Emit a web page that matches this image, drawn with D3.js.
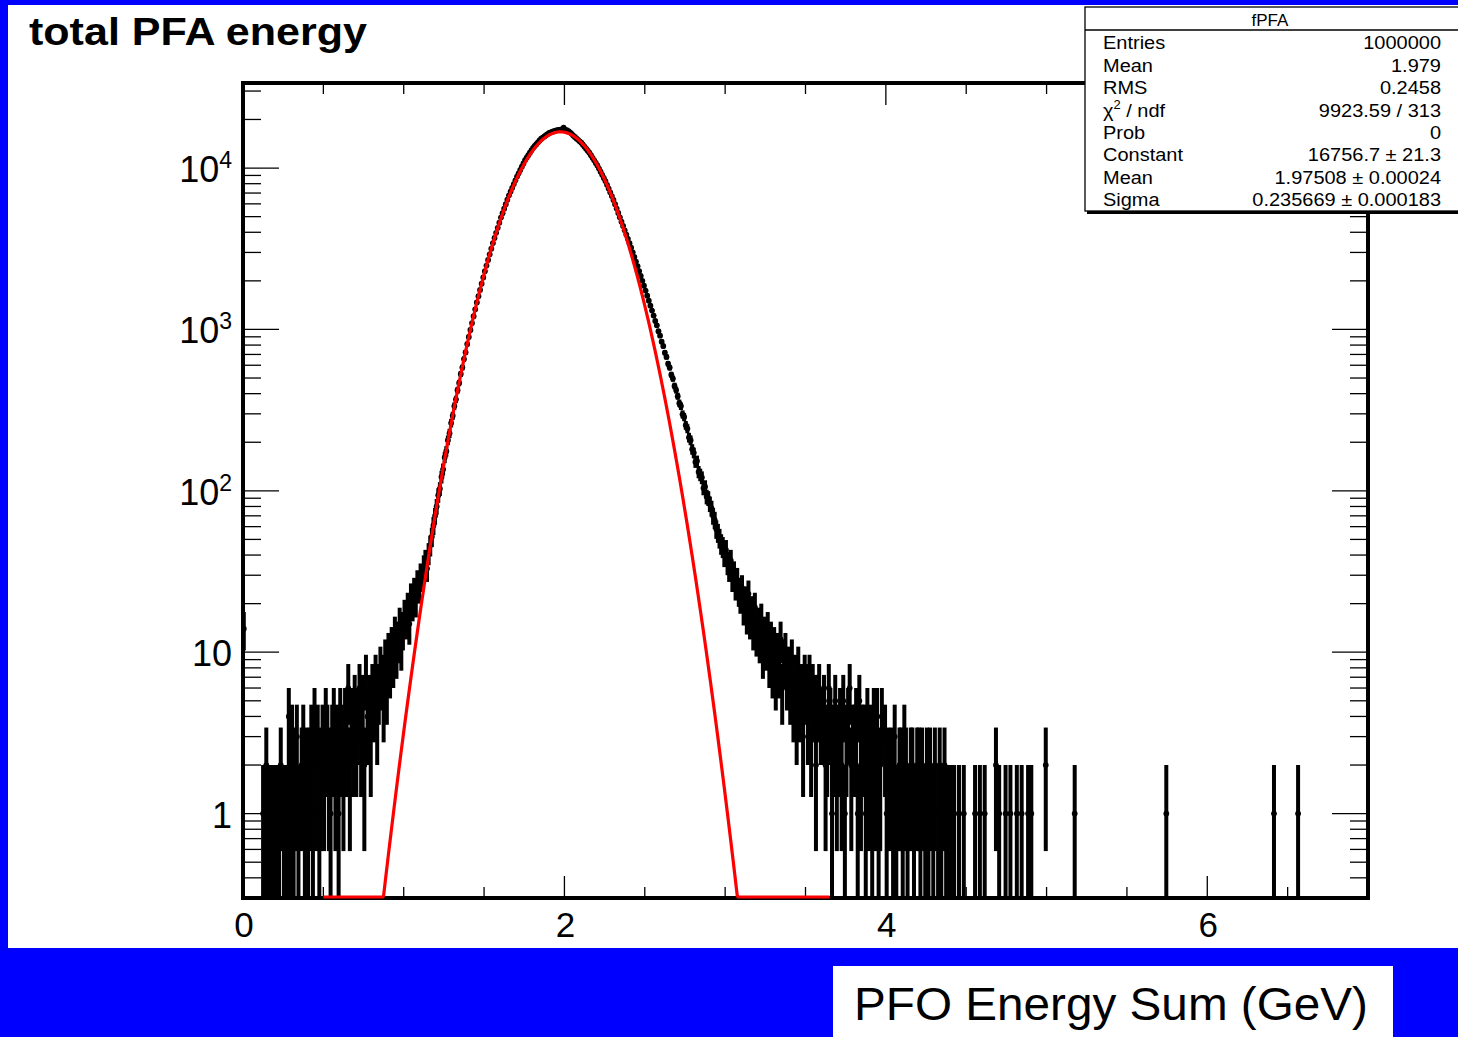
<!DOCTYPE html>
<html>
<head>
<meta charset="utf-8">
<script src="https://cdn.jsdelivr.net/npm/d3@7"></script>
<style>
body { margin: 0; background: #0000ff; }
text { font-family: "Liberation Sans", Arial, sans-serif; fill: #000; }
</style>
</head>
<body>
<svg id="chart" width="1458" height="1037"></svg>
<script>
'use strict';

// histogram fPFA, 0.01 GeV bins starting at 0
var binWidth = 0.01;

// bins 0..119 (0.00 - 1.20 GeV)
var leftTailCounts = [
	14, 0, 0, 0, 0, 0, 0, 0, 0, 0, 0, 0,
	1, 1, 2, 1, 1, 0, 1, 1, 1,
	1, 1, 2, 0, 1, 1, 1, 4, 1, 3,
	1, 2, 3, 1, 0, 2, 3, 1, 2, 1,
	2, 3, 1, 4, 2, 3, 1, 2, 3, 2,
	4, 3, 2, 1, 3, 4, 2, 3, 1, 4,
	3, 2, 4, 3, 6, 2, 4, 3, 5, 3,
	4, 6, 3, 5, 2, 7, 4, 5, 3, 6,
	5, 7, 4, 6, 8, 7, 5, 9, 6, 10,
	8, 11, 9, 13, 10, 12, 15, 11, 14, 17,
	16, 19, 15, 22, 20, 24, 21, 27, 25, 30,
	29, 34, 37, 33, 41, 46, 52, 61, 70
];

// bins 120..289 (1.20 - 2.90 GeV)
var coreCounts = [
	80, 94, 103, 122, 136, 161, 176, 206, 227, 263,
	292, 335, 369, 420, 466, 530, 581, 655, 721, 811,
	899, 992, 1095, 1208, 1333, 1470, 1607, 1757, 1921, 2100,
	2295, 2487, 2695, 2921, 3165, 3430, 3688, 3966, 4264, 4585,
	4930, 5254, 5600, 5969, 6362, 6780, 7151, 7542, 7955, 8390,
	8850, 9277, 9724, 10193, 10684, 11200, 11600, 12014, 12443, 12888,
	13350, 13701, 14062, 14432, 14811, 15200, 15452, 15709, 15969, 16234,
	16500, 16640, 16780, 16920, 17060, 17200, 17260, 17300, 17350, 17800,
	17250, 17150, 16950, 16650, 16300, 15900, 15577, 15261, 14952, 14648,
	14350, 13948, 13558, 13178, 12809, 12450, 12006, 11577, 11163, 10765,
	10380, 9925, 9491, 9075, 8678, 8300, 7868, 7458, 7070, 6701,
	6350, 5966, 5606, 5267, 4949, 4650, 4374, 4115, 3871, 3641,
	3425, 3207, 3003, 2812, 2633, 2465, 2299, 2144, 2000, 1865,
	1740, 1620, 1508, 1404, 1308, 1218, 1129, 1060, 975, 915,
	840, 789, 718, 676, 613, 580, 524, 496, 447, 421,
	386, 349, 335, 298, 287, 255, 243, 214, 206, 181,
	172, 151, 153, 131, 126, 121, 104, 106, 92, 90
];

// bins 290..509 (2.90 - 5.10 GeV)
var rightTailCounts = [
	83, 78, 70, 66, 58, 55, 51, 47, 45, 40,
	43, 36, 33, 37, 29, 31, 26, 28, 24, 22,
	25, 19, 21, 17, 23, 16, 18, 14, 19, 13,
	15, 12, 16, 10, 13, 11, 14, 9, 12, 8,
	11, 7, 10, 8, 12, 6, 9, 10, 7, 8,
	6, 9, 5, 7, 4, 8, 5, 6, 3, 7,
	6, 4, 7, 3, 6, 5, 2, 5, 6, 4,
	4, 5, 2, 3, 6, 4, 1, 3, 5, 2,
	3, 4, 2, 5, 1, 3, 4, 6, 2, 3,
	3, 4, 1, 5, 2, 3, 3, 1, 4, 2,
	3, 1, 4, 2, 4, 1, 2, 4, 0, 3,
	1, 2, 0, 2, 1, 3, 1, 0, 2, 2,
	1, 3, 2, 1, 0, 2, 2, 1, 0, 2,
	2, 1, 2, 0, 1, 2, 1, 2, 0, 1,
	2, 0, 1, 2, 1, 0, 2, 1, 1, 0,
	1, 0, 1, 0, 0, 1, 0, 0, 1, 0,
	0, 0, 0, 0, 0, 1, 0, 0, 1, 0,
	0, 1, 0, 0, 0, 0, 0, 0, 2, 0,
	1, 0, 0, 0, 1, 0, 0, 1, 0, 0,
	0, 1, 0, 0, 1, 0, 0, 0, 1, 0,
	1, 0, 0, 0, 0, 0, 0, 0, 0, 2,
	0, 0, 0, 0, 0, 0, 0, 0, 0, 0
];

// isolated bins far out in the tail
var farTailBins = [517, 574, 641, 656];
var farTailCounts = [1, 1, 1, 1];

// gaus fit (red)
var fitConstant = 16756.7;
var fitMean = 1.97508;
var fitSigma = 0.235669;
var fitRange = [0.5, 3.65];

var xLabels = [0, 2, 4, 6];
var yLabelValues = [1, 10, 100, 1000, 10000];
var yLabelBase = ["1", "10", "10", "10", "10"];
var yLabelExp = ["", "", "2", "3", "4"];

var statsTitle = "fPFA";
var statsNames = ["Entries", "Mean", "RMS", "\u03c7", "Prob", "Constant", "Mean", "Sigma"];
var statsValues = ["1000000", "1.979", "0.2458", "9923.59 / 313", "0",
	"16756.7 \u00b1 21.3", "1.97508 \u00b1 0.00024", "0.235669 \u00b1 0.000183"];

var chartTitle = "total PFA energy";
var xTitle = "PFO Energy Sum (GeV)";

// ------------------------------------------------------------------

var svg = d3.select("#chart");

// white slide area
svg.append("rect").attr("x", 8).attr("y", 5).attr("width", 1450).attr("height", 943).attr("fill", "#fff");

var frame = { left: 243, right: 1368, top: 83, bottom: 898 };

var x = d3.scaleLinear().domain([0, 7]).range([frame.left, frame.right]);
var y = d3.scaleLog().domain([0.3, 33650]).range([frame.bottom, frame.top]);

svg.append("defs").append("clipPath").attr("id", "plotclip").append("rect")
	.attr("x", frame.left).attr("y", frame.top)
	.attr("width", frame.right - frame.left).attr("height", frame.bottom - frame.top);

// bins
var counts = leftTailCounts.concat(coreCounts, rightTailCounts);
var bins = [];
counts.forEach(function(n, i) {
	if (n > 0) bins.push({ lo: i * binWidth, n: n });
});
farTailBins.forEach(function(b, i) {
	bins.push({ lo: b * binWidth, n: farTailCounts[i] });
});

var hist = svg.append("g").attr("clip-path", "url(#plotclip)");

// vertical error bars
hist.selectAll("line.err").data(bins).enter().append("line")
	.attr("class", "err")
	.attr("x1", function(d) { return x(d.lo + binWidth / 2); })
	.attr("x2", function(d) { return x(d.lo + binWidth / 2); })
	.attr("y1", function(d) {
		var lo = d.n - Math.sqrt(d.n);
		return lo > 0.3 ? y(lo) : frame.bottom + 5;
	})
	.attr("y2", function(d) { return y(d.n + Math.sqrt(d.n)); })
	.attr("stroke", "#000").attr("stroke-width", 4);

// bin width bars
hist.selectAll("line.bw").data(bins).enter().append("line")
	.attr("class", "bw")
	.attr("x1", function(d) { return x(d.lo) - 1; })
	.attr("x2", function(d) { return x(d.lo + binWidth) + 1; })
	.attr("y1", function(d) { return y(d.n); })
	.attr("y2", function(d) { return y(d.n); })
	.attr("stroke", "#000").attr("stroke-width", 1.2);

// markers
hist.selectAll("circle").data(bins).enter().append("circle")
	.attr("cx", function(d) { return x(d.lo + binWidth / 2); })
	.attr("cy", function(d) { return y(d.n); })
	.attr("r", 2.9).attr("fill", "#000");

// frame ticks
var axes = svg.append("g").attr("stroke", "#000").attr("stroke-width", 1.3);

d3.range(0, 7.01, 0.5).forEach(function(v) {
	var len = (v % 2 === 0) ? 22 : 11;
	axes.append("line").attr("x1", x(v)).attr("x2", x(v))
		.attr("y1", frame.bottom).attr("y2", frame.bottom - len);
	axes.append("line").attr("x1", x(v)).attr("x2", x(v))
		.attr("y1", frame.top).attr("y2", frame.top + len);
});

var yTicks = [];
d3.range(-1, 5).forEach(function(e) {
	for (var k = 1; k <= 9; k++) {
		var v = k * Math.pow(10, e);
		if (v >= 0.3 && v <= 33650) yTicks.push({ v: v, major: k === 1 });
	}
});
yTicks.forEach(function(t) {
	var len = t.major ? 36 : 18;
	axes.append("line").attr("x1", frame.left).attr("x2", frame.left + len)
		.attr("y1", y(t.v)).attr("y2", y(t.v));
	axes.append("line").attr("x1", frame.right).attr("x2", frame.right - len)
		.attr("y1", y(t.v)).attr("y2", y(t.v));
});

// frame
svg.append("rect")
	.attr("x", frame.left).attr("y", frame.top)
	.attr("width", frame.right - frame.left).attr("height", frame.bottom - frame.top)
	.attr("fill", "none").attr("stroke", "#000").attr("stroke-width", 4);

// fit curve, values under the axis minimum sit on the frame
var fitPts = d3.range(fitRange[0], fitRange[1] + 0.0001, 0.005).map(function(v) {
	var g = fitConstant * Math.exp(-0.5 * Math.pow((v - fitMean) / fitSigma, 2));
	return [x(v), g > 0.3 ? y(g) : frame.bottom - 1];
});
svg.append("path")
	.attr("d", d3.line()(fitPts))
	.attr("fill", "none").attr("stroke", "#ff0000").attr("stroke-width", 3.2);

// labels
svg.selectAll("text.xl").data(xLabels).enter().append("text")
	.attr("class", "xl")
	.attr("x", function(d) { return x(d) + 1; })
	.attr("y", 937)
	.attr("text-anchor", "middle")
	.attr("font-size", 35)
	.text(function(d) { return d; });

yLabelValues.forEach(function(v, i) {
	var t = svg.append("text")
		.attr("x", 232).attr("y", y(v) + 14)
		.attr("text-anchor", "end")
		.attr("font-size", 36);
	t.append("tspan").text(yLabelBase[i]);
	if (yLabelExp[i]) {
		t.append("tspan").attr("dy", -14).attr("font-size", 23).text(yLabelExp[i]);
	}
});

// title
svg.append("text")
	.attr("x", 29).attr("y", 45)
	.attr("font-size", 38).attr("font-weight", "bold")
	.attr("textLength", 338).attr("lengthAdjust", "spacingAndGlyphs")
	.text(chartTitle);

// stats box
var sb = { x: 1085, y: 7, w: 400, h: 204 };
svg.append("rect").attr("x", sb.x + 2).attr("y", sb.y + 3).attr("width", sb.w).attr("height", sb.h).attr("fill", "#000");
svg.append("rect").attr("x", sb.x).attr("y", sb.y).attr("width", sb.w).attr("height", sb.h)
	.attr("fill", "#fff").attr("stroke", "#000").attr("stroke-width", 1.3);
svg.append("line").attr("x1", sb.x).attr("x2", sb.x + sb.w).attr("y1", 30).attr("y2", 30)
	.attr("stroke", "#000").attr("stroke-width", 1.3);
svg.append("text").attr("x", 1270).attr("y", 26).attr("text-anchor", "middle")
	.attr("font-size", 17).text(statsTitle);

// stats text is a bit wider than the plain font
var namesG = svg.append("g").attr("transform", "translate(1103,0) scale(1.08,1)");
var valuesG = svg.append("g").attr("transform", "translate(1441,0) scale(1.08,1)");

statsNames.forEach(function(name, i) {
	var by = 49.5 + i * 22.4;
	var t = namesG.append("text").attr("x", 0).attr("y", by).attr("font-size", 18.5);
	t.append("tspan").text(name);
	if (name === "\u03c7") {
		t.append("tspan").attr("dy", -8).attr("font-size", 12).text("2");
		t.append("tspan").attr("dy", 8).text(" / ndf");
	}
	valuesG.append("text").attr("x", 0).attr("y", by).attr("text-anchor", "end")
		.attr("font-size", 18.5).text(statsValues[i]);
});

// axis title box on the blue band
svg.append("rect").attr("x", 833).attr("y", 966).attr("width", 560).attr("height", 71).attr("fill", "#fff");
svg.append("text")
	.attr("x", 854).attr("y", 1020)
	.attr("font-size", 46)
	.attr("textLength", 514).attr("lengthAdjust", "spacingAndGlyphs")
	.text(xTitle);
</script>
</body>
</html>
